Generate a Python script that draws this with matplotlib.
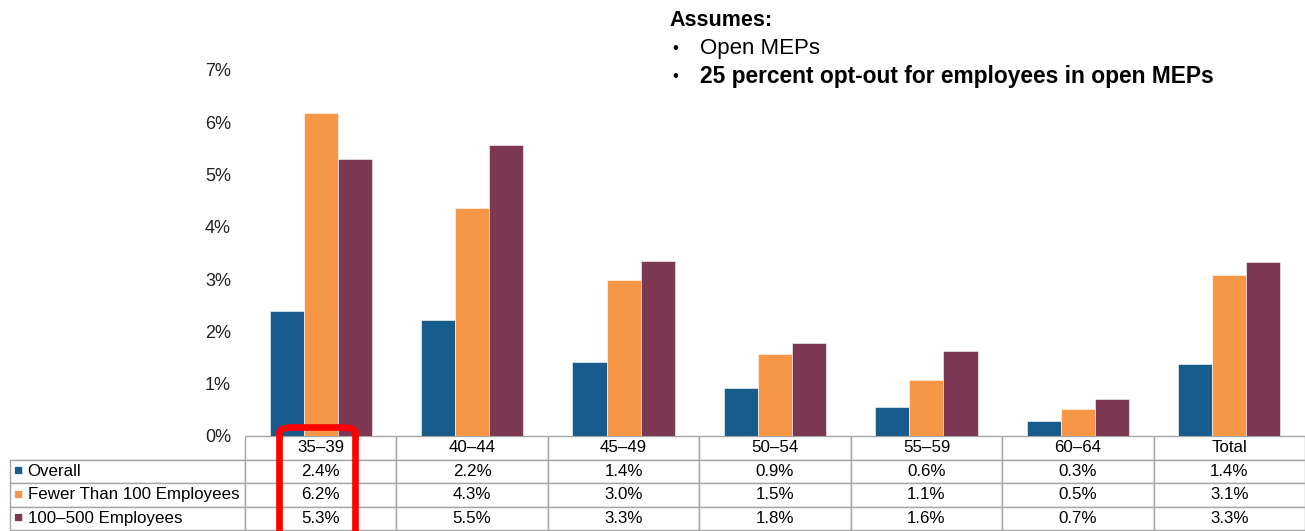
import matplotlib
matplotlib.use('Agg')
import matplotlib.pyplot as plt
from matplotlib.patches import FancyBboxPatch
import numpy as np

plt.rcParams['font.family'] = ['Liberation Sans', 'DejaVu Sans']

groups = ['35–39', '40–44', '45–49', '50–54', '55–59', '60–64', 'Total']
series = ['Overall', 'Fewer Than 100 Employees', '100–500 Employees']
overall = [2.39, 2.21, 1.42, 0.92, 0.56, 0.28, 1.37]
fewer100 = [6.18, 4.36, 2.99, 1.56, 1.08, 0.51, 3.08]
emp100_500 = [5.29, 5.56, 3.35, 1.77, 1.62, 0.71, 3.32]
table_text = [
    ['2.4%', '2.2%', '1.4%', '0.9%', '0.6%', '0.3%', '1.4%'],
    ['6.2%', '4.3%', '3.0%', '1.5%', '1.1%', '0.5%', '3.1%'],
    ['5.3%', '5.5%', '3.3%', '1.8%', '1.6%', '0.7%', '3.3%'],
]
colors = ['#175C8D', '#F79646', '#7D3853']

W, H = 1305, 531
fig = plt.figure(figsize=(W / 100, H / 100), dpi=100)
ax = fig.add_axes([245 / W, 1 - 436 / H, 1060 / W, 366 / H])

x = np.arange(len(groups))
bw = 0.225
for i, vals in enumerate([overall, fewer100, emp100_500]):
    ax.bar(x + (i - 1) * bw, vals, bw, color=colors[i], edgecolor='white', linewidth=0.4)

ax.set_xlim(-0.5, len(groups) - 0.5)
ax.set_ylim(0, 7)
ax.set_yticks(range(8))
ax.set_yticklabels(['%d%%' % v for v in range(8)], fontsize=13, color='#222222')
ax.set_xticks([])
ax.tick_params(axis='y', length=0, pad=10)
for s in ax.spines.values():
    s.set_visible(False)

# data table under the bars (first column holds the series names)
lw = 235
cw = 1060 / len(groups)
tot = lw + cw * len(groups)
cells = [[name] + row for name, row in zip(series, table_text)]
tbl = ax.table(cellText=cells, colLabels=[''] + groups, cellLoc='center',
               colWidths=[lw / tot] + [cw / tot] * len(groups),
               bbox=[-lw / 1060, -94 / 366, tot / 1060, 94 / 366])
tbl.auto_set_font_size(False)
tbl.set_fontsize(12.2)
for (r, c), cell in tbl.get_celld().items():
    cell.set_edgecolor('#A6A6A6')
    cell.set_linewidth(1.0)
    if c == 0:
        cell._loc = 'left'
        cell.PAD = 0.075
        cell.get_text().set_ha('left')
        if r == 0:
            cell.visible_edges = 'B'

# legend keys in row label cells
rh = 94 / 4
for i in range(3):
    ax.text((18 - 245) / 1060, -(rh * (i + 1.5)) / 366, '■', color=colors[i],
            fontsize=11, ha='center', va='center', transform=ax.transAxes,
            clip_on=False)

# red highlight box
box = FancyBboxPatch((279.5 / W, -0.05), (355.5 - 279.5) / W, (1 - 427.5 / H) + 0.05,
                     boxstyle='round,pad=0,rounding_size=0.01',
                     transform=fig.transFigure, fill=False, edgecolor='#FF0000',
                     linewidth=4.8, clip_on=False)
fig.patches.append(box)

# assumptions note
fig.text(669 / W, 1 - 20 / H, 'Assumes:', fontsize=15.5, fontweight='bold', va='center')
fig.text(672 / W, 1 - 48 / H, '•', fontsize=12, va='center')
fig.text(700 / W, 1 - 48 / H, 'Open MEPs', fontsize=16, va='center')
fig.text(672 / W, 1 - 77 / H, '•', fontsize=12, va='center')
fig.text(700 / W, 1 - 77 / H, '25 percent opt-out for employees in open MEPs',
         fontsize=16.4, fontweight='bold', va='center')

fig.savefig('out.png', dpi=100)
